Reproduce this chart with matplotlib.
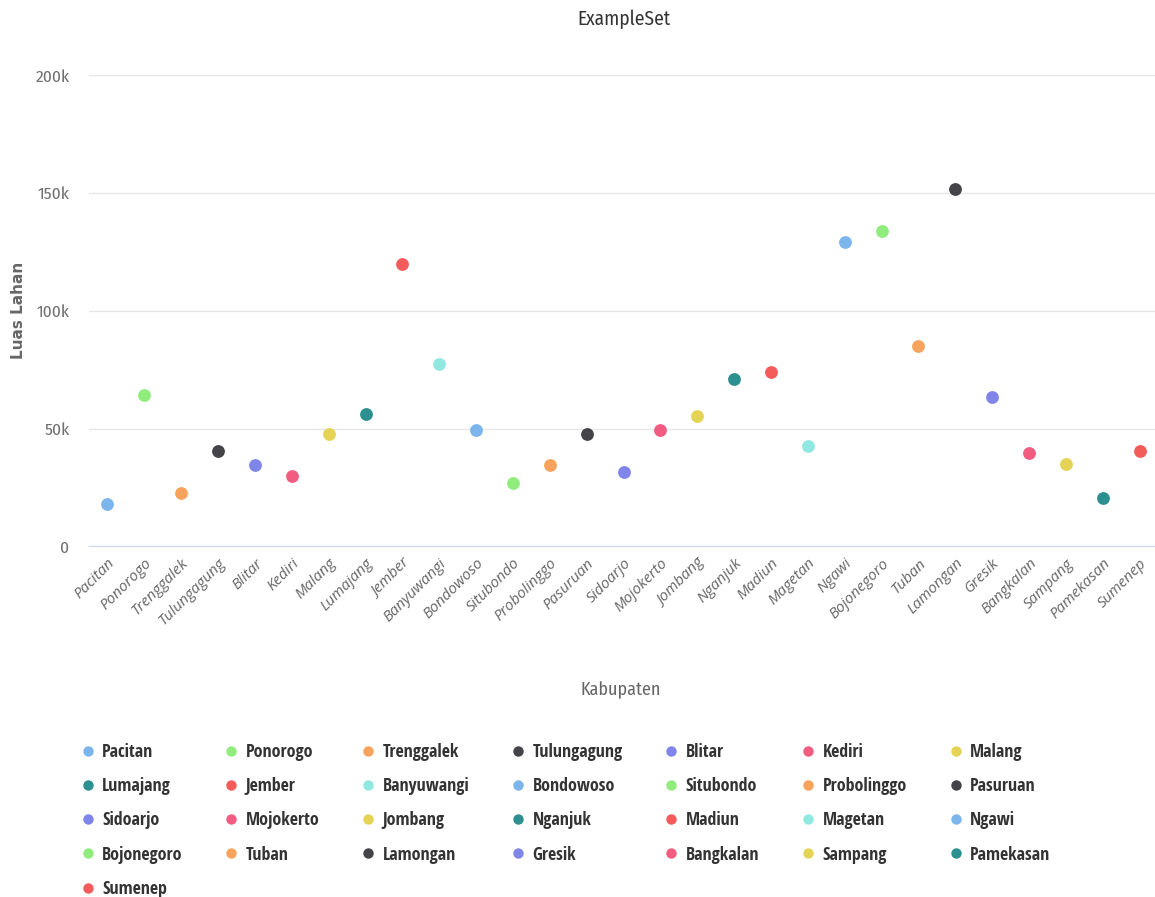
import matplotlib.pyplot as plt
from matplotlib import font_manager
from matplotlib.lines import Line2D

kabupaten = ['Pacitan', 'Ponorogo', 'Trenggalek', 'Tulungagung', 'Blitar', 'Kediri',
             'Malang', 'Lumajang', 'Jember', 'Banyuwangi', 'Bondowoso', 'Situbondo',
             'Probolinggo', 'Pasuruan', 'Sidoarjo', 'Mojokerto', 'Jombang', 'Nganjuk',
             'Madiun', 'Magetan', 'Ngawi', 'Bojonegoro', 'Tuban', 'Lamongan', 'Gresik',
             'Bangkalan', 'Sampang', 'Pamekasan', 'Sumenep']
luas_lahan = [17800, 64100, 22500, 40300, 34400, 29700, 47600, 56100, 119700, 77300,
              49300, 26800, 34400, 47600, 31400, 49300, 55200, 70900, 73900, 42500,
              129100, 133800, 84900, 151600, 63300, 39500, 34800, 20400, 40300]
yticks = [0, 50000, 100000, 150000, 200000]
ytick_labels = ['0', '50k', '100k', '150k', '200k']

palette = ['#7cb5ec', '#90ed7d', '#f7a35c', '#434348', '#8085e9',
           '#f15c80', '#e4d354', '#2b908f', '#f45b5b', '#91e8e1']

installed = {f.name for f in font_manager.fontManager.ttflist}


def pick(cands):
    for c in cands:
        if c in installed:
            return [c, 'DejaVu Sans']
    return ['DejaVu Sans']


light_narrow = pick(['Fira Sans Condensed', 'Roboto Condensed', 'PT Sans Narrow',
                     'Open Sans Condensed'])
bold_narrow = pick(['Open Sans Condensed', 'Fira Sans Condensed', 'Roboto Condensed'])
italic_font = pick(['Open Sans', 'Roboto'])

fig = plt.figure(figsize=(11.55, 8.97), dpi=100)
ax = fig.add_axes([0.0771, 0.391, 0.9255, 0.525])

handles = []
for i, (name, val) in enumerate(zip(kabupaten, luas_lahan)):
    c = palette[i % len(palette)]
    ax.scatter([i], [val], s=85, color=c, zorder=3, linewidths=0)
    handles.append(Line2D([], [], marker='o', linestyle='', markersize=7.5,
                          markerfacecolor=c, markeredgewidth=0, label=name))

ax.set_xlim(-0.5, len(kabupaten) - 0.5)
ax.set_ylim(0, 200000)
ax.set_yticks(yticks)
ax.set_yticklabels(ytick_labels, color='#707070', fontsize=12.5, family=light_narrow)
ax.set_xticks(range(len(kabupaten)))
ax.set_xticklabels(kabupaten, rotation=45, ha='right', va='top', rotation_mode='anchor',
                   style='italic', color='#666666', fontsize=11, family=italic_font)
ax.tick_params(axis='y', length=0, pad=14)
ax.tick_params(axis='x', length=0, pad=7)

ax.grid(axis='y', color='#e6e6e6', linewidth=1)
ax.set_axisbelow(True)
for s in ['top', 'right', 'left']:
    ax.spines[s].set_visible(False)
ax.spines['bottom'].set_color('#ccd6eb')

ax.set_title('ExampleSet', fontsize=14, color='#333333', family=light_narrow, pad=36)
ax.set_xlabel('Kabupaten', fontsize=13, color='#666666', family=light_narrow, va='center')
ax.xaxis.set_label_coords(0.497, -0.306)
ax.set_ylabel('Luas Lahan', fontsize=11, color='#666666', fontweight='bold', va='center')
ax.yaxis.set_label_coords(-0.066, 0.5)

# legend filled row by row, 7 per row
ncol = 7
order = []
for c in range(ncol):
    order += list(range(c, len(handles), ncol))
fig.legend([handles[i] for i in order], [kabupaten[i] for i in order],
           ncol=ncol, loc='upper left', bbox_to_anchor=(0.054, 0.19),
           frameon=False, handletextpad=0.3, columnspacing=2.2,
           labelspacing=0.9, handlelength=1.0,
           prop={'family': bold_narrow, 'weight': 'bold', 'size': 13},
           labelcolor='#333333')

fig.savefig('out.png', dpi=100)
